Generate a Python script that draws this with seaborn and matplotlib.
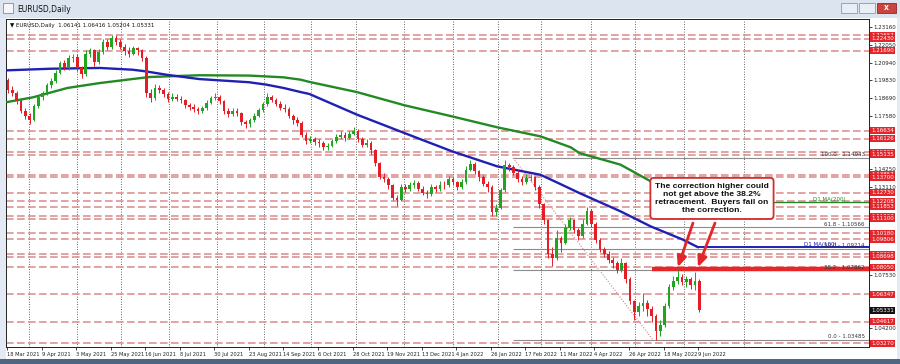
import numpy as np
import matplotlib
matplotlib.use("Agg")
import matplotlib.pyplot as plt
import matplotlib.transforms as mtransforms
from matplotlib.patches import Rectangle
import seaborn as sns

# ---------------- data ----------------
first_open = 1.1985
closes = [
    1.1920, 1.1905, 1.1850, 1.1790, 1.1760, 1.1735, 1.1820, 1.1875, 1.1900, 1.1950,
    1.1975, 1.2030, 1.2090, 1.2060, 1.2120, 1.2130, 1.2060, 1.2020, 1.2150, 1.2170,
    1.2095, 1.2160, 1.2225, 1.2190, 1.2250, 1.2225, 1.2195, 1.2165, 1.2150, 1.2185,
    1.2170, 1.2125, 1.1905, 1.1870, 1.1935, 1.1920, 1.1895, 1.1865, 1.1880, 1.1865,
    1.1855, 1.1825, 1.1815, 1.1800, 1.1790, 1.1805, 1.1840, 1.1870, 1.1875, 1.1850,
    1.1790, 1.1770, 1.1790, 1.1775, 1.1720, 1.1705, 1.1730, 1.1760, 1.1795, 1.1830,
    1.1875, 1.1860, 1.1835, 1.1810, 1.1800, 1.1760, 1.1730, 1.1715, 1.1640, 1.1600,
    1.1610, 1.1595, 1.1585, 1.1560, 1.1570, 1.1600, 1.1625, 1.1640, 1.1620, 1.1645,
    1.1665, 1.1610, 1.1575, 1.1590, 1.1540, 1.1460, 1.1375, 1.1360, 1.1320, 1.1240,
    1.1230, 1.1310, 1.1300, 1.1320, 1.1335, 1.1300, 1.1275, 1.1265, 1.1310, 1.1295,
    1.1325, 1.1320, 1.1360, 1.1340, 1.1310, 1.1340, 1.1420, 1.1455, 1.1410, 1.1370,
    1.1330, 1.1310, 1.1150, 1.1180, 1.1290, 1.1450, 1.1435, 1.1400, 1.1360, 1.1340,
    1.1365, 1.1370, 1.1310, 1.1200, 1.1100, 1.0890, 1.0860, 1.0990, 1.0960, 1.1050,
    1.1100, 1.1040, 1.1000, 1.1080, 1.1160, 1.1080, 1.0975, 1.0920, 1.0890, 1.0850,
    1.0830, 1.0790, 1.0830, 1.0730, 1.0590, 1.0520, 1.0560, 1.0580, 1.0540, 1.0500,
    1.0400, 1.0440, 1.0560, 1.0680, 1.0720, 1.0740, 1.0710, 1.0730, 1.0690, 1.0720,
    1.0533,
]
highs = [
    1.1995, 1.1945, 1.1915, 1.1865, 1.1805, 1.1775, 1.1830, 1.1890, 1.1915, 1.1965,
    1.1995, 1.2050, 1.2105, 1.2110, 1.2140, 1.2150, 1.2145, 1.2075, 1.2170, 1.2185,
    1.2180, 1.2180, 1.2245, 1.2240, 1.2268, 1.2265, 1.2240, 1.2210, 1.2190, 1.2200,
    1.2195, 1.2180, 1.2135, 1.1925, 1.1960, 1.1955, 1.1935, 1.1910, 1.1900, 1.1895,
    1.1885, 1.1865, 1.1840, 1.1830, 1.1815, 1.1820, 1.1855, 1.1885, 1.1900, 1.1890,
    1.1860, 1.1805, 1.1810, 1.1805, 1.1785, 1.1735, 1.1745, 1.1775, 1.1810, 1.1845,
    1.1900, 1.1890, 1.1870, 1.1850, 1.1830, 1.1815, 1.1770, 1.1750, 1.1725, 1.1655,
    1.1630, 1.1625, 1.1610, 1.1600, 1.1590, 1.1615, 1.1645, 1.1660, 1.1655, 1.1665,
    1.1690, 1.1675, 1.1625, 1.1610, 1.1600, 1.1550, 1.1470, 1.1400, 1.1375, 1.1330,
    1.1260, 1.1330, 1.1330, 1.1340, 1.1355, 1.1345, 1.1315, 1.1290, 1.1330, 1.1325,
    1.1345, 1.1345, 1.1380, 1.1375, 1.1350, 1.1360, 1.1440, 1.1482, 1.1465, 1.1420,
    1.1385, 1.1345, 1.1320, 1.1200, 1.1305, 1.1480, 1.1460, 1.1450, 1.1415, 1.1380,
    1.1390, 1.1395, 1.1380, 1.1320, 1.1210, 1.1110, 1.0935, 1.1040, 1.1000, 1.1075,
    1.1120, 1.1110, 1.1050, 1.1110, 1.1185, 1.1170, 1.1090, 1.0990, 1.0935, 1.0905,
    1.0870, 1.0845, 1.0865, 1.0840, 1.0740, 1.0600, 1.0585, 1.0640, 1.0600, 1.0560,
    1.0510, 1.0470, 1.0580, 1.0700, 1.0750, 1.0787, 1.0765, 1.0750, 1.0745, 1.0774,
    1.0730,
]
lows = [
    1.1905, 1.1885, 1.1835, 1.1775, 1.1740, 1.1705, 1.1725, 1.1805, 1.1860, 1.1890,
    1.1935, 1.1965, 1.2020, 1.2045, 1.2050, 1.2100, 1.2040, 1.1995, 1.2010, 1.2130,
    1.2075, 1.2085, 1.2150, 1.2175, 1.2180, 1.2205, 1.2180, 1.2140, 1.2130, 1.2140,
    1.2140, 1.2105, 1.1880, 1.1845, 1.1860, 1.1900, 1.1880, 1.1845, 1.1850, 1.1850,
    1.1840, 1.1805, 1.1795, 1.1780, 1.1770, 1.1775, 1.1795, 1.1830, 1.1855, 1.1835,
    1.1770, 1.1750, 1.1755, 1.1755, 1.1700, 1.1680, 1.1690, 1.1720, 1.1750, 1.1785,
    1.1820, 1.1845, 1.1820, 1.1795, 1.1785, 1.1745, 1.1710, 1.1695, 1.1625, 1.1580,
    1.1585, 1.1575, 1.1565, 1.1540, 1.1545, 1.1560, 1.1590, 1.1610, 1.1600, 1.1610,
    1.1635, 1.1595, 1.1560, 1.1560, 1.1515, 1.1440, 1.1360, 1.1340, 1.1300, 1.1225,
    1.1190, 1.1220, 1.1280, 1.1285, 1.1305, 1.1285, 1.1260, 1.1240, 1.1255, 1.1280,
    1.1285, 1.1300, 1.1310, 1.1320, 1.1290, 1.1300, 1.1330, 1.1410, 1.1395, 1.1350,
    1.1315, 1.1280, 1.1125, 1.1130, 1.1170, 1.1280, 1.1410, 1.1385, 1.1340, 1.1320,
    1.1330, 1.1345, 1.1290, 1.1180, 1.1080, 1.0865, 1.0810, 1.0850, 1.0900, 1.0950,
    1.1040, 1.1020, 1.0975, 1.0990, 1.1070, 1.1060, 1.0955, 1.0900, 1.0870, 1.0830,
    1.0800, 1.0770, 1.0775, 1.0705, 1.0570, 1.0470, 1.0500, 1.0530, 1.0500, 1.0460,
    1.0349, 1.0370, 1.0430, 1.0545, 1.0660, 1.0700, 1.0690, 1.0680, 1.0670, 1.0660,
    1.0520,
]

date_labels = ["18 Mar 2021", "9 Apr 2021", "3 May 2021", "25 May 2021", "16 Jun 2021",
               "8 Jul 2021", "30 Jul 2021", "23 Aug 2021", "14 Sep 2021", "6 Oct 2021",
               "28 Oct 2021", "19 Nov 2021", "13 Dec 2021", "4 Jan 2022", "26 Jan 2022",
               "17 Feb 2022", "11 Mar 2022", "4 Apr 2022", "26 Apr 2022", "18 May 2022",
               "9 Jun 2022"]
date_bars = [0, 16, 32, 48, 64, 80, 96, 112, 128, 144, 160, 176, 192, 208, 224,
             240, 256, 272, 288, 304, 320]

ma100_bars = [0, 20, 43, 58, 64, 74, 89, 112, 120, 128, 136, 140, 162, 184, 206,
              227, 247, 256, 265, 284, 298, 313, 320]
ma100_vals = [1.2045, 1.2055, 1.2060, 1.2049, 1.2039, 1.2017, 1.1990, 1.1970, 1.1955,
              1.1934, 1.1908, 1.1896, 1.1766, 1.1650, 1.1535, 1.1440, 1.1387, 1.1330,
              1.1272, 1.1157, 1.1062, 1.0978, 1.0930]
ma200_bars = [0, 12, 28, 43, 58, 66, 89, 112, 128, 136, 140, 162, 184, 206, 227,
              247, 261, 265, 284, 298, 320]
ma200_vals = [1.1845, 1.1875, 1.1934, 1.1965, 1.1990, 1.2003, 1.2014, 1.2012, 1.2001,
              1.1986, 1.1972, 1.1908, 1.1825, 1.1755, 1.1686, 1.1629, 1.1560, 1.1524,
              1.1451, 1.1346, 1.1214]

sr_levels = [1.22657, 1.22430, 1.21690, 1.16634, 1.16126, 1.15286, 1.15135, 1.13857,
             1.13700, 1.12730, 1.12208, 1.11853, 1.11267, 1.11100, 1.10180, 1.09806,
             1.08868, 1.08698, 1.08050, 1.06347, 1.04617, 1.03270]
price_ticks = [1.23160, 1.22050, 1.20940, 1.19830, 1.18690, 1.17580, 1.14250,
               1.13110, 1.07530, 1.04200]
fib_pct = ["100.0", "61.8", "50.0", "38.2", "0.0"]
fib_vals = [1.14943, 1.10566, 1.09214, 1.07862, 1.03485]
last_price = 1.05331
resistance = 1.0792
ma100_level = 1.0930
ma200_level = 1.1214
grid_bars = [10.2, 32.4, 52.8, 75, 97.2, 119, 140.7, 161.6, 183.8, 206.5, 227.3,
             247.2, 270.4, 290.7, 313.4, 341.2]

# ---------------- style ----------------
sns.set_theme(style="white")
plt.rcParams['font.family'] = ['DejaVu Sans']

W, H = 900, 364
fig = plt.figure(figsize=(9, 3.64), dpi=100)
fig.patch.set_facecolor('#e3eaf3')


def px_rect(x0, y0, x1, y1, **kw):
    fig.patches.append(Rectangle((x0 / W, 1 - y1 / H), (x1 - x0) / W, (y1 - y0) / H,
                                 transform=fig.transFigure, zorder=-5, **kw))


px_rect(0, 0, 900, 18, facecolor='#dbe4ef', edgecolor='none')
px_rect(6, 18, 897, 359, facecolor='white', edgecolor='none')
px_rect(0, 359, 900, 364, facecolor='#4f6580', edgecolor='none')
px_rect(3, 3, 13, 13, facecolor='#f4f6f9', edgecolor='#7d8fa6', lw=0.6)
px_rect(841, 3, 857, 13, facecolor='#e8eef6', edgecolor='#8a9bb2', lw=0.6)
px_rect(859, 3, 875, 13, facecolor='#e8eef6', edgecolor='#8a9bb2', lw=0.6)
px_rect(877, 3, 896, 13, facecolor='#c9463d', edgecolor='#8f2a24', lw=0.6)
fig.text(17 / W, 1 - 9 / H, "EURUSD,Daily", fontsize=5.5, va='center', ha='left', color='#111')
fig.text(886.5 / W, 1 - 8 / H, "x", fontsize=5.5, va='center', ha='center', color='white',
         fontweight='bold')

ax = fig.add_axes([6 / W, 1 - 347 / H, (869 - 6) / W, (347 - 19) / H])
ax.set_zorder(2)
ax.set_facecolor('white')
ax.set_xlim(-0.46, 399.1)
ax.set_ylim(1.03020, 1.23684)
for s in ax.spines.values():
    s.set_color('#222')
    s.set_linewidth(0.7)

# grid (vertical dotted)
for gb in grid_bars:
    ax.axvline(gb, color='#333', lw=0.6, ls=(0, (1, 2)), zorder=1)

# support/resistance dashed lines
for lv in sr_levels:
    ax.axhline(lv, color='#d98a8a', lw=1.1, dashes=(5, 2.2), zorder=1)

# Fibonacci retracement
fib_x0 = 234.3
ax.hlines(fib_vals, fib_x0, 399.1, color='#8c8c8c', lw=0.8, zorder=2)
ax.plot([fib_x0, 299], [fib_vals[0], fib_vals[-1]], ls=(0, (1, 1.5)), color='#c48a8a',
        lw=0.8, zorder=2)
for pct, v in zip(fib_pct, fib_vals):
    ax.text(397.2, v + 0.0004, f"{pct} - {v:.5f}", ha='right', va='bottom', fontsize=4.0,
            color='#333', zorder=6)

# moving averages
sns.lineplot(x=ma200_bars, y=ma200_vals, ax=ax, color='#238a23', lw=1.7, zorder=3)
sns.lineplot(x=ma100_bars, y=ma100_vals, ax=ax, color='#2020b4', lw=1.7, zorder=3)
ax.hlines(ma200_level, ma200_bars[-1], 399.1, color='#238a23', lw=1.0, zorder=3)
ax.hlines(ma100_level, ma100_bars[-1], 399.1, color='#2020b4', lw=1.4, zorder=3)
ax.text(373, ma200_level + 0.0004, "D1 MA(200)", ha='left', va='bottom', fontsize=4.0,
        color='#238a23', zorder=6)
ax.text(384.3, ma100_level + 0.0004, "D1 MA(100)", ha='right', va='bottom', fontsize=4.0,
        color='#2020b4', zorder=6)

# resistance thick line
ax.hlines(resistance, 298.6, 399.1, color='#e8262a', lw=3.2, zorder=4)

# candles
o = np.array([first_open] + closes[:-1])
c = np.array(closes)
h = np.array(highs)
l = np.array(lows)
xs = np.arange(len(c)) * 2 + 0.5
col = np.where(c >= o, '#1fa51f', '#e51e25')
ax.vlines(xs, l, h, colors=col, lw=0.7, zorder=5)
body_lo = np.minimum(o, c)
body_h = np.maximum(np.abs(c - o), 0.00025)
ax.bar(xs, body_h, bottom=body_lo, width=1.25, color=col, lw=0, zorder=5)

# x axis
ax.set_xticks(date_bars)
ax.set_xticklabels(date_labels)
for lbl in ax.get_xticklabels():
    lbl.set_ha('left')
ax.tick_params(axis='x', length=2.5, width=0.6, color='#222', labelsize=3.7, pad=1.2,
               labelcolor='#222', direction='out', bottom=True)

# y axis on right
ax.yaxis.tick_right()
ax.set_yticks(price_ticks)
ax.set_yticklabels([f"{v:.5f}" for v in price_ticks])
ax.tick_params(axis='y', length=2, width=0.6, color='#222', labelsize=4.0, pad=1,
               labelcolor='#222', right=True, left=False)

trans = mtransforms.blended_transform_factory(ax.transAxes, ax.transData)
for lv in sr_levels:
    ax.text(1.0025, lv, f"{lv:.5f}", transform=trans, fontsize=4.0, color='white',
            va='center', ha='left', clip_on=False, zorder=20,
            bbox=dict(boxstyle='square,pad=0.18', fc='#e3262b', ec='none'))
ax.text(1.0025, last_price, f"{last_price:.5f}", transform=trans, fontsize=4.0,
        color='white', va='center', ha='left', clip_on=False, zorder=21,
        bbox=dict(boxstyle='square,pad=0.18', fc='#111', ec='none'))

# info line
ax.text(0.005, 0.988, "\u25BC EURUSD,Daily  1.06141 1.06416 1.05204 1.05331",
        transform=ax.transAxes, fontsize=4.0, va='top', ha='left', color='#111', zorder=20)

# annotation
red = '#e0262b'
ax.text(326.4, 1.1238,
        "The correction higher could\nnot get above the 38.2%\nretracement.  Buyers fail on\nthe correction.",
        ha='center', va='center', fontsize=6.1, fontweight='bold',
        family=['Liberation Sans', 'DejaVu Sans'], linespacing=1.25, color='#111', zorder=15,
        bbox=dict(boxstyle='round,pad=0.55,rounding_size=0.4', fc='white', ec='#d0302f', lw=1.3))
for (x0, y0), (x1, y1) in [((317.6, 1.1083), (310.6, 1.0805)), ((327.8, 1.1083), (319.9, 1.0805))]:
    ax.annotate('', xy=(x1, y1), xytext=(x0, y0),
                arrowprops=dict(arrowstyle='-|>,head_width=0.35,head_length=0.8', color=red,
                                lw=2.0, mutation_scale=8, shrinkA=0, shrinkB=0), zorder=16)

fig.savefig("out.png", dpi=100, facecolor=fig.get_facecolor())
